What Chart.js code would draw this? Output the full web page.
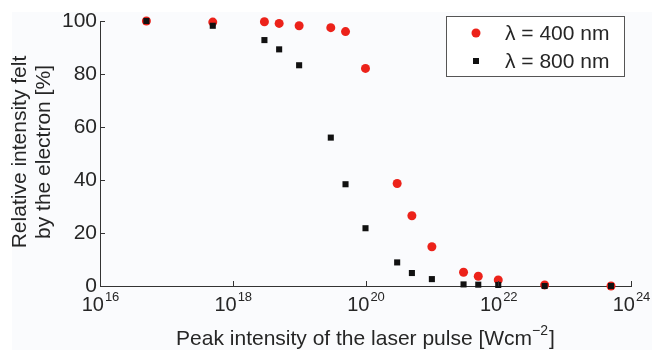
<!DOCTYPE html>
<html lang="en">

<head>
    <meta charset="UTF-8">
    <script src="https://cdn.jsdelivr.net/npm/chart.js"></script>
    <title>Relative intensity felt by the electron</title>
    <style>
        body { margin: 0; background: #ffffff; }
    </style>
</head>

<body>
    <canvas id="myChart" width="652" height="350"></canvas>
    <script>
        // peak intensity in W/cm^2
        const intensities = [5e16, 5e17, 3e18, 5e18, 1e19, 3e19, 5e19, 1e20, 3e20, 5e20, 1e21, 3e21, 5e21, 1e22, 5e22, 5e23];
        const felt400 = [100, 99.6, 99.7, 99.1, 98.2, 97.5, 96, 82.1, 38.7, 26.5, 14.8, 5.2, 3.7, 2.3, 0.4, 0];
        const felt800 = [100, 98.2, 92.8, 89.3, 83.3, 56.0, 38.4, 21.8, 8.9, 4.9, 2.6, 0.6, 0.5, 0.4, 0, 0];
        const xTickExponents = [16, 18, 20, 22, 24];
        const yTicks = [0, 20, 40, 60, 80, 100];
        const legendLabels = ["\u03bb = 400 nm", "\u03bb = 800 nm"];

        const red = "rgb(236, 34, 26)";
        const ink = "#262626";
        const fontName = "'Liberation Sans', Arial, sans-serif";

        const toPoints = ys => intensities.map((x, i) => ({ x: x, y: ys[i] }));

        const decorations = {
            id: "decorations",
            beforeDraw(chart) {
                const ctx = chart.ctx;
                ctx.save();
                ctx.fillStyle = "#fafbfd";
                ctx.fillRect(12, 12, chart.width - 12, chart.height - 12);
                ctx.restore();
            },
            afterDraw(chart) {
                const ctx = chart.ctx;
                const xs = chart.scales.x;
                const ys = chart.scales.y;
                const area = chart.chartArea;
                ctx.save();

                // inward tick marks
                ctx.strokeStyle = "#333";
                ctx.lineWidth = 1;
                ctx.beginPath();
                xTickExponents.forEach(e => {
                    const px = Math.round(xs.getPixelForValue(Math.pow(10, e))) + 0.5;
                    ctx.moveTo(px, area.bottom);
                    ctx.lineTo(px, area.bottom - 5);
                });
                yTicks.forEach(v => {
                    const py = Math.round(ys.getPixelForValue(v)) + 0.5;
                    ctx.moveTo(area.left, py);
                    ctx.lineTo(area.left + 5, py);
                });
                ctx.stroke();

                // y tick labels
                ctx.fillStyle = ink;
                ctx.font = "21px " + fontName;
                ctx.textAlign = "right";
                ctx.textBaseline = "middle";
                yTicks.forEach(v => {
                    ctx.fillText(String(v), area.left - 3, ys.getPixelForValue(v));
                });

                // x tick labels: 10 with superscript exponent
                ctx.textBaseline = "alphabetic";
                ctx.textAlign = "left";
                xTickExponents.forEach(e => {
                    const px = xs.getPixelForValue(Math.pow(10, e));
                    ctx.font = "20px " + fontName;
                    const baseW = ctx.measureText("10").width;
                    ctx.font = "13px " + fontName;
                    const expW = ctx.measureText(String(e)).width;
                    const start = px - (baseW + expW) / 2;
                    ctx.font = "20px " + fontName;
                    ctx.fillText("10", start, area.bottom + 25);
                    ctx.font = "13px " + fontName;
                    ctx.fillText(String(e), start + baseW + 1, area.bottom + 15);
                });

                // x axis title
                const xTitle = "Peak intensity of the laser pulse [Wcm";
                ctx.font = "21px " + fontName;
                const tW = ctx.measureText(xTitle).width;
                ctx.font = "14px " + fontName;
                const supW = ctx.measureText("\u22122").width;
                ctx.font = "21px " + fontName;
                const bW = ctx.measureText("]").width;
                const cx = (area.left + area.right) / 2;
                const sx = cx - (tW + supW + bW + 1) / 2;
                const base = area.bottom + 59;
                ctx.fillText(xTitle, sx, base);
                ctx.font = "14px " + fontName;
                ctx.fillText("\u22122", sx + tW, base - 10);
                ctx.font = "21px " + fontName;
                ctx.fillText("]", sx + tW + supW + 1, base);

                // y axis title (two lines)
                ctx.save();
                ctx.translate(0, 152);
                ctx.rotate(-Math.PI / 2);
                ctx.textAlign = "center";
                ctx.textBaseline = "middle";
                ctx.font = "21px " + fontName;
                ctx.fillText("Relative intensity felt", 0, 20);
                ctx.fillText("by the electron [%]", 0, 44);
                ctx.restore();

                // legend box
                ctx.fillStyle = "#ffffff";
                ctx.fillRect(446, 16, 179, 61);
                ctx.strokeStyle = "#555";
                ctx.strokeRect(446.5, 16.5, 178, 60);
                ctx.fillStyle = red;
                ctx.beginPath();
                ctx.arc(476, 33, 4.5, 0, Math.PI * 2);
                ctx.fill();
                ctx.fillStyle = "#111";
                ctx.fillRect(473, 58, 6, 6);
                ctx.fillStyle = ink;
                ctx.font = "21px " + fontName;
                ctx.textAlign = "left";
                ctx.textBaseline = "middle";
                ctx.fillText(legendLabels[0], 505, 34);
                ctx.fillText(legendLabels[1], 505, 62);

                ctx.restore();
            }
        };

        new Chart(document.getElementById("myChart"), {
            type: "scatter",
            data: {
                datasets: [{
                    label: legendLabels[1],
                    data: toPoints(felt800),
                    pointStyle: "rect",
                    pointRadius: 4.3,
                    backgroundColor: "#111",
                    borderColor: "#111",
                    borderWidth: 0,
                    clip: false
                }, {
                    label: legendLabels[0],
                    data: toPoints(felt400),
                    pointStyle: "circle",
                    pointRadius: 4.5,
                    backgroundColor: red,
                    borderColor: red,
                    borderWidth: 0,
                    clip: false
                }]
            },
            options: {
                responsive: false,
                animation: false,
                layout: {
                    padding: { left: 100, right: 21, top: 21, bottom: 64 }
                },
                scales: {
                    x: {
                        type: "logarithmic",
                        min: 1e16,
                        max: 1e24,
                        grid: { display: false },
                        ticks: { display: false },
                        border: { display: true, color: "#333", width: 1 },
                        afterFit: scale => { scale.height = 0; }
                    },
                    y: {
                        min: 0,
                        max: 100,
                        grid: { display: false },
                        ticks: { display: false },
                        border: { display: true, color: "#333", width: 1 },
                        afterFit: scale => { scale.width = 0; }
                    }
                },
                plugins: {
                    legend: { display: false },
                    tooltip: { enabled: false }
                }
            },
            plugins: [decorations]
        });
    </script>
</body>

</html>
